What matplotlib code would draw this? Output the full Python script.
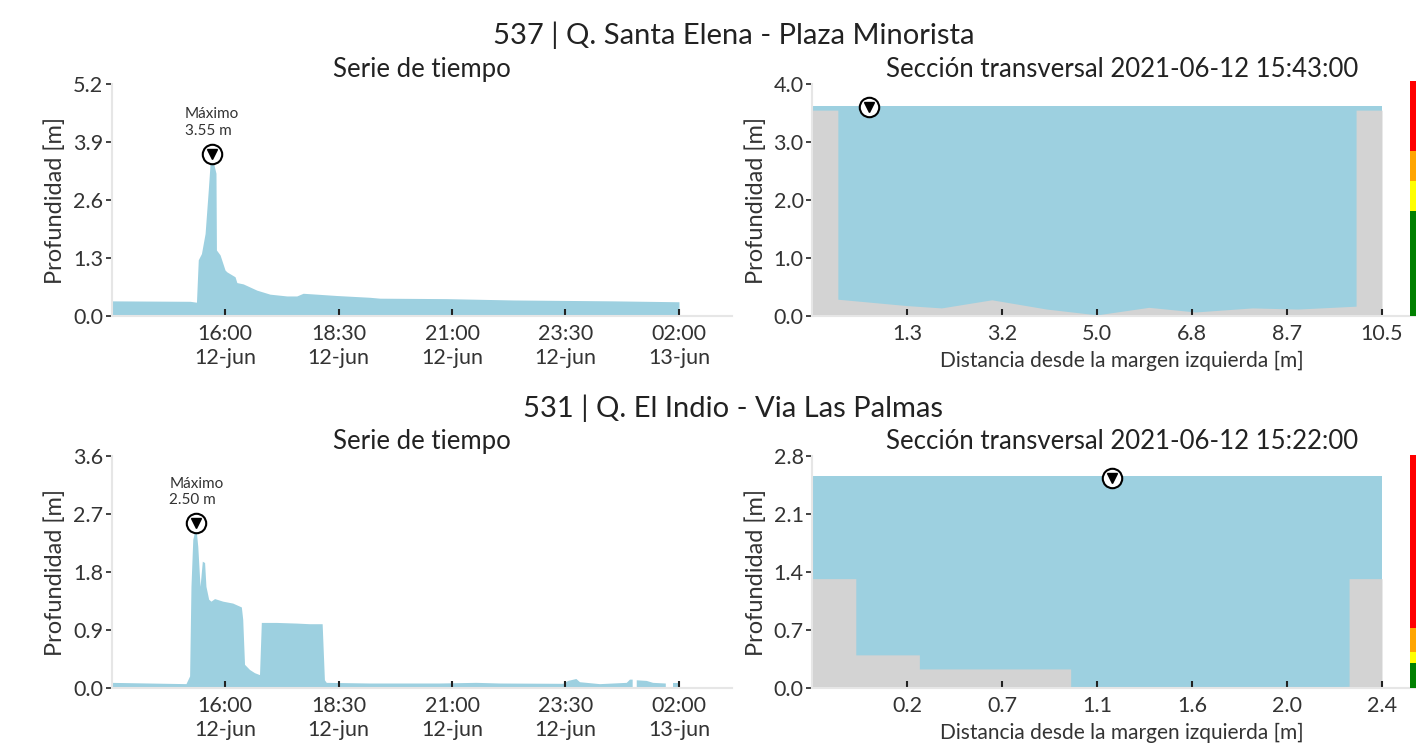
import numpy as np
import pandas as pd
import matplotlib
matplotlib.use("Agg")
import matplotlib.pyplot as plt
import matplotlib.dates as mdates
from matplotlib.ticker import FuncFormatter

plt.rcParams['font.family'] = ['Lato', 'DejaVu Sans']

# ---------------- datos ----------------
# serie 537 (horas desde 00:00 del 12-jun, profundidad en m)
t_537 = [13.5, 15.23, 15.37, 15.41, 15.48, 15.56, 15.63, 15.67, 15.717, 15.80, 15.81,
         15.89, 16.0, 16.04, 16.22, 16.26, 16.40, 16.70, 16.99, 17.36, 17.58, 17.72,
         18.02, 18.46, 19.19, 19.41, 20.88, 22.35, 24.55, 26.0]
h_537 = [0.34, 0.33, 0.31, 1.26, 1.40, 1.85, 2.82, 3.42, 3.55, 3.20, 1.48,
         1.37, 1.03, 0.99, 0.88, 0.75, 0.72, 0.58, 0.49, 0.45, 0.45, 0.51,
         0.49, 0.46, 0.42, 0.40, 0.39, 0.36, 0.34, 0.32]

# serie 531
t_531 = [13.5, 15.15, 15.23, 15.26, 15.30, 15.367, 15.41, 15.46, 15.51, 15.56, 15.59,
         15.65, 15.70, 15.78, 15.96, 16.18, 16.37, 16.40, 16.44, 16.55, 16.66, 16.77,
         16.81, 17.14, 17.58, 17.87, 18.15, 18.20, 18.24, 19.19, 20.73, 21.54, 22.06,
         23.45, 23.56, 23.74, 23.82, 24.26, 24.85, 24.92, 24.98, 24.99, 25.07, 25.29,
         25.43, 25.71, 25.72, 25.85, 25.86, 26.02]
h_531 = [0.08, 0.06, 0.18, 1.57, 2.30, 2.50, 2.19, 1.57, 1.96, 1.94, 1.57,
         1.37, 1.34, 1.38, 1.34, 1.31, 1.25, 1.06, 0.36, 0.28, 0.23, 0.20,
         1.01, 1.01, 1.00, 0.99, 0.99, 0.12, 0.08, 0.07, 0.07, 0.08, 0.07,
         0.065, 0.11, 0.14, 0.09, 0.06, 0.08, 0.13, 0.13, np.nan, 0.12, 0.11,
         0.08, 0.07, np.nan, np.nan, 0.07, 0.07]

# secciones transversales
x_sec_537 = [-0.5, 0.0, 0.0, 1.33, 2.0, 2.97, 4.03, 5.0, 6.0, 6.9, 8.0, 8.87, 10.0, 10.0, 10.5]
z_sec_537 = [3.55, 3.55, 0.29, 0.18, 0.14, 0.28, 0.12, 0.02, 0.15, 0.07, 0.14, 0.12, 0.17, 3.55, 3.55]
nivel_537 = 3.62
marca_537 = 0.6

x_sec_531 = [-0.2, 0.0, 0.0, 0.29, 0.29, 0.98, 0.98, 1.9, 2.25, 2.25, 2.4]
z_sec_531 = [1.32, 1.32, 0.40, 0.40, 0.23, 0.23, 0.0, 0.0, 0.02, 1.32, 1.32]
nivel_531 = 2.56
marca_531 = 1.17

# umbrales de alerta (verde, amarillo, naranja, rojo)
umbral_537 = [0.0, 1.81, 2.33, 2.84, 4.05]
umbral_531 = [0.0, 0.30, 0.43, 0.73, 2.81]
colores_alerta = ['green', 'yellow', 'orange', 'red']

labels_x_537 = ['1.3', '3.2', '5.0', '6.8', '8.7', '10.5']
labels_x_531 = ['0.2', '0.7', '1.1', '1.6', '2.0', '2.4']

AZUL = '#9dd0e0'
GRIS = '#d3d3d3'
SPINE = '#e6e6e6'
base = pd.Timestamp('2021-06-12')


def a_fecha(horas):
    return [base + pd.Timedelta(hours=float(h)) for h in horas]


def estilo(ax):
    for s in ['top', 'right']:
        ax.spines[s].set_visible(False)
    for s in ['left', 'bottom']:
        ax.spines[s].set_color(SPINE)
        ax.spines[s].set_linewidth(1.5)
    ax.tick_params(axis='x', direction='in', length=5, width=1.5, color='#222222',
                   labelsize=15.5, pad=6, labelcolor='#333333')
    ax.tick_params(axis='y', direction='out', length=4, width=1.2, color='#222222',
                   labelsize=15.5, pad=2, labelcolor='#333333')


def marcador(ax, x, y):
    ax.plot([x], [y], 'o', ms=14, mfc='white', mec='black', mew=1.5, zorder=5, clip_on=False)
    ax.plot([x], [y], 'v', ms=7, color='black', zorder=6, clip_on=False)


def serie(ax, t, h, ymax):
    tt = a_fecha(t)
    ax.fill_between(tt, 0, h, color=AZUL, lw=0)
    estilo(ax)
    ax.set_xlim(base + pd.Timedelta(hours=13.5), base + pd.Timedelta(hours=27.17))
    ax.set_ylim(0, ymax)
    ax.set_yticks(np.linspace(0, ymax, 5))
    ax.yaxis.set_major_formatter(FuncFormatter(lambda v, p: f'{v:.1f}'))
    ax.set_xticks(a_fecha([16, 18.5, 21, 23.5, 26]))
    ax.xaxis.set_major_formatter(FuncFormatter(
        lambda v, p: mdates.num2date(v).strftime('%H:%M\n%d-%b').lower()))
    ax.set_ylabel('Profundidad [m]', fontsize=17, color='#333333', labelpad=5)
    ax.set_title('Serie de tiempo', fontsize=18.5, color='#222222', pad=5)
    i = int(np.nanargmax(h))
    marcador(ax, tt[i], h[i] + ymax * 0.015)
    ax.annotate(f'Máximo\n{h[i]:.2f} m', (tt[i], h[i] + ymax * 0.015), xytext=(0, 12),
                textcoords='offset points', ha='center', va='bottom',
                multialignment='left', fontsize=11, color='#333333')


def seccion(ax, xs, zs, nivel, xm, ymax, xlabels, fecha):
    x0, x1 = xs[0], xs[-1]
    ax.fill_between([x0, x1], 0, nivel, color=AZUL, lw=0)
    ax.fill_between(xs, 0, zs, color=GRIS, lw=0)
    estilo(ax)
    ax.set_xlim(x0, x1 + (x1 - x0) * 50 / 570)
    ax.set_ylim(0, ymax)
    ax.set_yticks(np.linspace(0, ymax, 5))
    ax.yaxis.set_major_formatter(FuncFormatter(lambda v, p: f'{v:.1f}'))
    ax.set_xticks(np.linspace(x0, x1, 7)[1:])
    ax.set_xticklabels(xlabels)
    ax.set_ylabel('Profundidad [m]', fontsize=17, color='#333333', labelpad=5)
    ax.set_xlabel('Distancia desde la margen izquierda [m]', fontsize=15,
                  color='#333333', labelpad=5)
    ax.set_title('Sección transversal ' + fecha, fontsize=18.5, color='#222222', pad=5)
    marcador(ax, xm, nivel - 0.02)


def alerta(ax, umbrales, ymax):
    for k, c in enumerate(colores_alerta):
        ax.bar(0, umbrales[k + 1] - umbrales[k], bottom=umbrales[k], width=1,
               color=c, clip_on=False)
    ax.set_xlim(-0.5, 0.5)
    ax.set_ylim(0, ymax)
    ax.axis('off')


fig = plt.figure(figsize=(14.16, 7.45), dpi=100)

ax1 = fig.add_axes([0.0788, 0.5758, 0.4382, 0.3114])
ax2 = fig.add_axes([0.5734, 0.5758, 0.4379, 0.3114])
ax3 = fig.add_axes([0.0788, 0.0765, 0.4382, 0.3114])
ax4 = fig.add_axes([0.5734, 0.0765, 0.4379, 0.3114])
cb1 = fig.add_axes([0.9958, 0.5758, 0.02, 0.3114])
cb2 = fig.add_axes([0.9958, 0.0765, 0.02, 0.3114])

serie(ax1, t_537, h_537, 5.2)
seccion(ax2, x_sec_537, z_sec_537, nivel_537, marca_537, 4.0, labels_x_537, '2021-06-12 15:43:00')
serie(ax3, t_531, h_531, 3.6)
seccion(ax4, x_sec_531, z_sec_531, nivel_531, marca_531, 2.8, labels_x_531, '2021-06-12 15:22:00')
alerta(cb1, umbral_537, 4.0)
alerta(cb2, umbral_531, 2.8)

fig.text(0.518, 0.953, '537 | Q. Santa Elena - Plaza Minorista', ha='center', va='center',
         fontsize=21, color='#222222')
fig.text(0.518, 0.452, '531 | Q. El Indio - Via Las Palmas', ha='center', va='center',
         fontsize=21, color='#222222')

fig.savefig('out.png', dpi=100)
